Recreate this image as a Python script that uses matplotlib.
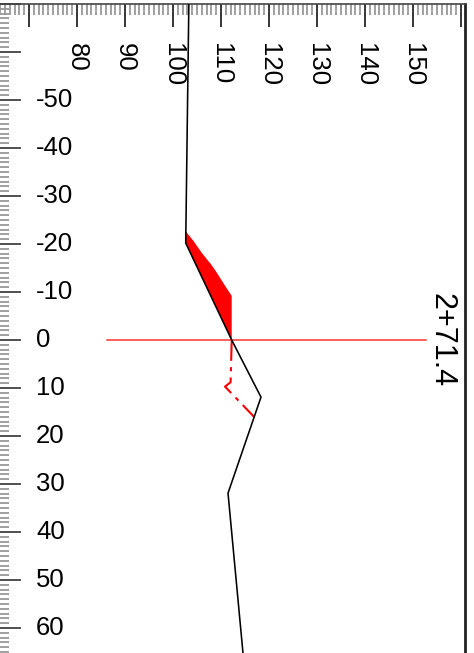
import matplotlib
matplotlib.use("Agg")
import matplotlib.pyplot as plt
from matplotlib.ticker import MultipleLocator

plt.rcParams['font.family'] = ['Liberation Sans', 'DejaVu Sans']

# ground profile (offset, elevation shown rotated)
profil_x = [103.3, 102.65, 112.23, 118.33, 111.46, 114.58]
profil_y = [-70.0, -20.2, 0.0, 11.9, 31.9, 65.2]

# red cut area, upper edge
corte_x = [102.65, 103.5, 104.3, 105.2, 106.04, 107.0, 107.9, 108.75, 109.9, 111.04, 111.7, 112.23, 112.23]
corte_y = [-22.6, -21.6, -20.6, -19.3, -18.1, -16.9, -15.8, -14.6, -12.8, -11.0, -10.0, -9.2, 0.0]

# design line (dash-dot)
projeto_x = [112.23, 112.0, 110.83, 116.88]
projeto_y = [0.0, 8.8, 9.7, 16.0]

# station line
estaca_x = [86.3, 152.8]
estaca_y = [0, 0]
estaca_txt = "2+71.4"

xticks = list(range(80, 151, 10))
yticks = list(range(-50, 61, 10))

fig = plt.figure(figsize=(4.74, 6.53), dpi=100)
ax = fig.add_axes([0, 0, 465 / 474, 649 / 653])
ax.set_xlim(63.96, 160.83)
ax.set_ylim(65.2, -70)

# ruler ticks
ax.xaxis.tick_top()
ax.xaxis.set_major_locator(MultipleLocator(10))
ax.xaxis.set_minor_locator(MultipleLocator(1))
ax.yaxis.set_major_locator(MultipleLocator(10))
ax.yaxis.set_minor_locator(MultipleLocator(1))
ax.tick_params(axis='x', which='major', direction='in', length=16.5, width=1.1,
               color='black', labeltop=False, labelbottom=False)
ax.tick_params(axis='x', which='minor', direction='in', length=8, width=1.3,
               color='#999999')
ax.tick_params(axis='y', which='major', direction='in', length=15, width=1.1,
               color='#222222', labelleft=False)
ax.tick_params(axis='y', which='minor', direction='in', length=6.5, width=1.3,
               color='#999999')

ax.spines['left'].set_visible(False)
ax.spines['bottom'].set_visible(False)
ax.spines['top'].set_color('#444444')
ax.spines['top'].set_linewidth(1.2)
ax.spines['right'].set_color('#222222')
ax.spines['right'].set_linewidth(2)

for v in xticks:
    ax.annotate(str(v), xy=(v, 1), xycoords=ax.get_xaxis_transform(),
                xytext=(0, -28), textcoords='offset points',
                rotation=270, ha='center', va='top', fontsize=18.5)
for v in yticks:
    ax.annotate(str(v), xy=(0, v), xycoords=ax.get_yaxis_transform(),
                xytext=(26, 0), textcoords='offset points',
                ha='left', va='center', fontsize=18.5)

# cut fill: upper edge then back along the profile
poly_x = corte_x + [profil_x[2], profil_x[1]]
poly_y = corte_y + [profil_y[2], profil_y[1]]
ax.fill(poly_x, poly_y, color='#ff0000', lw=0, zorder=2)

ax.plot(estaca_x, estaca_y, color='#ff3030', lw=1.1, zorder=3)
ax.plot(projeto_x, projeto_y, color='#ff0000', lw=1.5,
        linestyle=(0, (10, 3, 2, 3)), zorder=3)
ax.plot(profil_x, profil_y, color='black', lw=1.15, zorder=4)

ax.text(156.0, 0, estaca_txt, rotation=270, ha='center', va='center',
        fontsize=22)

fig.savefig("out.png", dpi=100)
